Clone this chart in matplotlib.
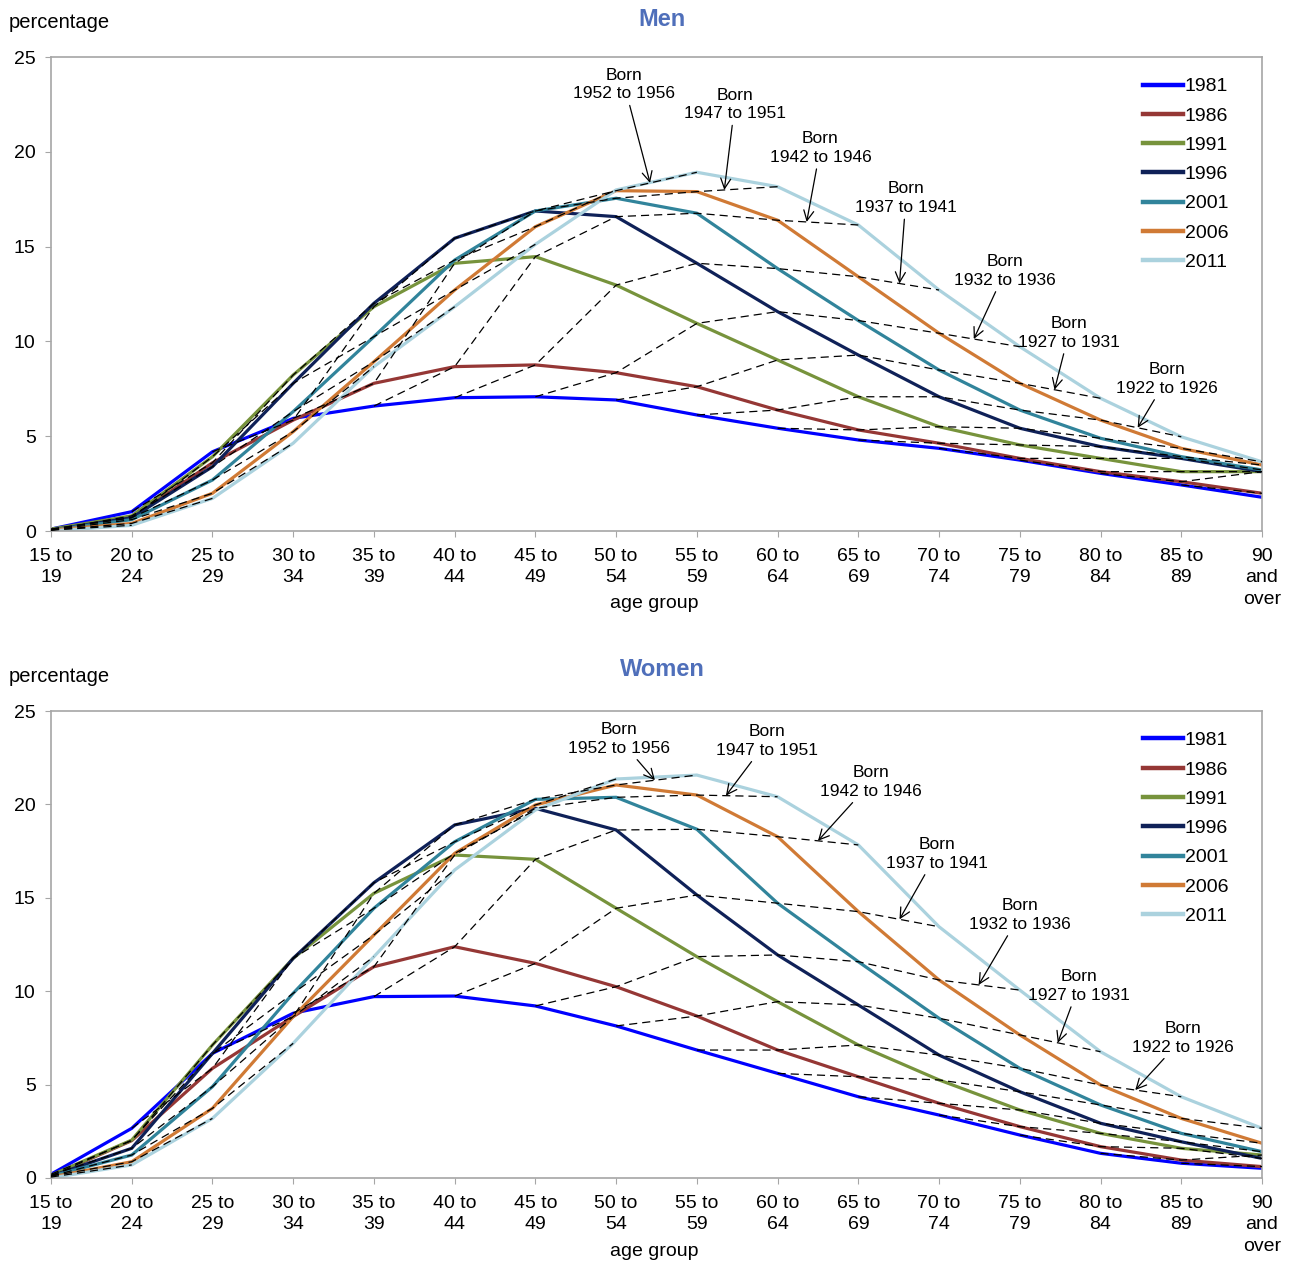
import matplotlib
matplotlib.use("Agg")
import matplotlib.pyplot as plt
import numpy as np

plt.rcParams['font.family'] = ['Liberation Sans', 'DejaVu Sans']

age_groups = ["15 to\n19", "20 to\n24", "25 to\n29", "30 to\n34", "35 to\n39", "40 to\n44",
              "45 to\n49", "50 to\n54", "55 to\n59", "60 to\n64", "65 to\n69", "70 to\n74",
              "75 to\n79", "80 to\n84", "85 to\n89", "90\nand\nover"]
years = ["1981", "1986", "1991", "1996", "2001", "2006", "2011"]
colors = ["#0000FF", "#953735", "#77933C", "#0F2158", "#31849B", "#D07A35", "#ABD2DE"]

men_1981 = [0.1, 1.02, 4.18, 5.94, 6.59, 7.03, 7.08, 6.91, 6.12, 5.42, 4.80, 4.36, 3.74, 3.04, 2.43, 1.78]
men_1986 = [0.05, 0.7, 3.6, 5.85, 7.79, 8.67, 8.76, 8.35, 7.61, 6.38, 5.33, 4.63, 3.83, 3.13, 2.60, 1.99]
men_1991 = [0.1, 0.8, 3.92, 8.23, 11.83, 14.12, 14.47, 12.97, 10.95, 9.02, 7.08, 5.50, 4.54, 3.83, 3.13, 3.13]
men_1996 = [0.05, 0.7, 3.39, 7.79, 12.01, 15.44, 16.88, 16.58, 14.12, 11.57, 9.28, 7.08, 5.42, 4.45, 3.83, 3.13]
men_2001 = [0.05, 0.6, 2.69, 6.3, 10.25, 14.29, 16.88, 17.55, 16.76, 13.84, 11.10, 8.49, 6.38, 4.89, 3.92, 3.22]
men_2006 = [0.05, 0.4, 1.99, 5.24, 8.93, 12.71, 16.05, 17.95, 17.90, 16.39, 13.41, 10.43, 7.79, 5.85, 4.36, 3.48]
men_2011 = [0.0, 0.3, 1.72, 4.63, 8.67, 11.83, 15.12, 17.99, 18.92, 18.16, 16.14, 12.71, 9.72, 7.00, 4.97, 3.65]

women_1981 = [0.2, 2.66, 6.67, 8.82, 9.71, 9.74, 9.21, 8.14, 6.85, 5.60, 4.35, 3.37, 2.30, 1.32, 0.79, 0.52]
women_1986 = [0.1, 2.0, 5.87, 8.64, 11.31, 12.38, 11.49, 10.24, 8.67, 6.85, 5.42, 4.00, 2.75, 1.68, 0.96, 0.61]
women_1991 = [0.15, 2.03, 7.12, 11.76, 15.24, 17.29, 17.06, 14.44, 11.85, 9.44, 7.12, 5.25, 3.64, 2.39, 1.59, 1.23]
women_1996 = [0.1, 1.59, 6.67, 11.76, 15.81, 18.90, 19.79, 18.63, 15.15, 11.94, 9.26, 6.58, 4.62, 2.93, 1.94, 1.05]
women_2001 = [0.1, 1.23, 4.89, 9.89, 14.44, 18.00, 20.27, 20.38, 18.67, 14.71, 11.58, 8.55, 5.87, 3.91, 2.39, 1.41]
women_2006 = [0.05, 0.87, 3.73, 8.64, 13.01, 17.38, 19.97, 21.04, 20.50, 18.27, 14.26, 10.60, 7.66, 4.98, 3.19, 1.86]
women_2011 = [0.0, 0.70, 3.19, 7.21, 11.85, 16.49, 19.70, 21.36, 21.57, 20.41, 17.83, 13.45, 10.06, 6.76, 4.35, 2.66]

men = [men_1981, men_1986, men_1991, men_1996, men_2001, men_2006, men_2011]
women = [women_1981, women_1986, women_1991, women_1996, women_2001, women_2006, women_2011]

cohort_starts = [1952, 1947, 1942, 1937, 1932, 1927, 1922]
cohort_labels = ["Born\n%d to %d" % (b, b + 4) for b in cohort_starts]

# layout for annotations: (text x, text y, fraction along last segment)
men_ann = [(7.10, 23.55, 0.42), (8.47, 22.50, 0.34), (9.53, 20.20, 0.36), (10.59, 17.55, 0.51),
           (11.82, 13.72, 0.43), (12.61, 10.45, 0.43), (13.82, 8.02, 0.46)]
women_ann = [(7.04, 23.50, 0.48), (8.87, 23.40, 0.36), (10.16, 21.20, 0.50), (10.97, 17.35, 0.51),
             (12.00, 14.08, 0.49), (12.73, 10.28, 0.47), (14.02, 7.50, 0.43)]

W, H = 1289, 1261
fig = plt.figure(figsize=(W / 100, H / 100), dpi=100)

def px_ax(l, t, r, b):
    return [l / W, 1 - b / H, (r - l) / W, (b - t) / H]

spine_col = "#A6A6A6"
title_col = "#4F6FBA"

def draw(ax, data, ann, title, ty, pcty, xly):
    n = len(age_groups)
    x = np.arange(n)
    for vals, c, lab in zip(data, colors, years):
        ax.plot(x, vals, color=c, lw=2.3, label=lab, solid_joinstyle='miter', zorder=2)
    # cohort dashed lines
    ny = len(data)
    starts = [(0, a) for a in range(n)] + [(k, 0) for k in range(1, ny)]
    for k0, a0 in starts:
        xs, ys = [], []
        j = 0
        while k0 + j < ny and a0 + j < n:
            xs.append(a0 + j)
            ys.append(data[k0 + j][a0 + j])
            j += 1
        if len(xs) > 1:
            ax.plot(xs, ys, color="black", lw=0.9, dashes=(6.5, 4), zorder=3)
    # annotations
    for b, lab, (tx, tyy, f) in zip(cohort_starts, cohort_labels, ann):
        a0 = int((1981 - b - 15) // 5)
        aend = a0 + ny - 1
        x1, y1 = aend - 1, data[ny - 2][aend - 1]
        x2, y2 = aend, data[ny - 1][aend]
        px = x1 + f * (x2 - x1)
        py = y1 + f * (y2 - y1)
        ax.annotate(lab, xy=(px, py), xytext=(tx, tyy), ha='center', va='center',
                    fontsize=12.5, linespacing=1.3,
                    arrowprops=dict(arrowstyle='->', color='black', lw=0.9,
                                    shrinkA=1, shrinkB=0, mutation_scale=18),
                    zorder=5)
    ax.set_xlim(0, n - 1)
    ax.set_ylim(0, 25)
    ax.set_yticks([0, 5, 10, 15, 20, 25])
    ax.set_xticks(x)
    ax.set_xticklabels(age_groups, fontsize=14, linespacing=1.35)
    ax.tick_params(axis='y', labelsize=14, length=4, color=spine_col, pad=7)
    ax.tick_params(axis='x', length=4, color=spine_col, pad=8)
    for s in ax.spines.values():
        s.set_color(spine_col)
        s.set_linewidth(1.2)
    leg = ax.legend(loc='upper right', bbox_to_anchor=(0.9835, 0.985), frameon=False,
                    fontsize=14, handlelength=2.1, handletextpad=0.08,
                    labelspacing=0.6, borderaxespad=0.3)
    for h in leg.get_lines():
        h.set_linewidth(3.2)
    fig.text(662 / W, 1 - ty / H, title, ha='center', va='center', fontsize=17,
             fontweight='bold', color=title_col)
    fig.text(9 / W, 1 - pcty / H, "percentage", ha='left', va='center', fontsize=14.5)
    fig.text(654 / W, 1 - xly / H, "age group", ha='center', va='center', fontsize=14)

ax1 = fig.add_axes(px_ax(51, 57, 1262, 531))
draw(ax1, men, men_ann, "Men", 20, 22, 603)
ax2 = fig.add_axes(px_ax(51, 711, 1262, 1178))
draw(ax2, women, women_ann, "Women", 670, 677, 1251)

fig.savefig("out.png", dpi=100)
